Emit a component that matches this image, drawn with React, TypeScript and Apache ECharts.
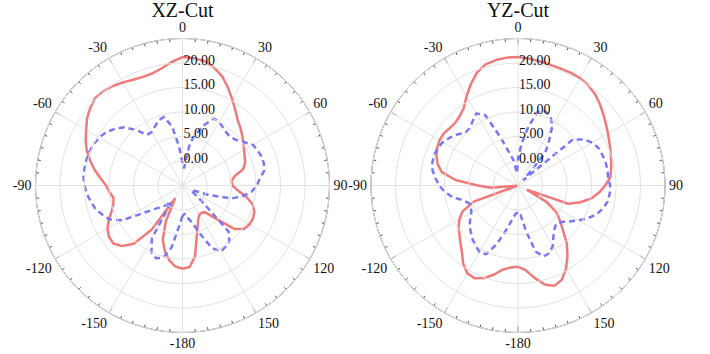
import React, { useEffect, useRef } from "react";
import * as echarts from "echarts";

const ANGLES = [
  -180, -175, -170, -165, -160, -155, -150, -145, -140, -135, -130, -125,
  -120, -115, -110, -105, -100, -95, -90, -85, -80, -75, -70, -65,
  -60, -55, -50, -45, -40, -35, -30, -25, -20, -15, -10, -5,
  0, 5, 10, 15, 20, 25, 30, 35, 40, 45, 50, 55,
  60, 65, 70, 75, 80, 85, 90, 95, 100, 105, 110, 115,
  120, 125, 130, 135, 140, 145, 150, 155, 160, 165, 170, 175,
  180,
];

const ANGLE_TICKS = [0, 30, 60, 90, 120, 150, -180, -150, -120, -90, -60, -30];
const RADIUS_TICKS = [0, 5, 10, 15, 20];
const TITLES = ["XZ-Cut", "YZ-Cut"];

// XZ cut, solid red
const XZ_RED = [
  12.0, 11.6, 10.5, 8.9, 6.8, 3.0, -2.0, 6.0, 10.5, 12.5, 13.4, 13.3,
  12.7, 11.6, 10.4, 9.6, 9.3, 10.0, 10.6, 11.8, 13.2, 14.5, 15.8, 16.8,
  17.7, 18.8, 19.6, 20.2, 20.1, 19.8, 19.3, 18.8, 18.6, 18.7, 19.3, 20.3,
  21.2, 21.1, 20.8, 19.9, 18.7, 17.0, 15.3, 13.8, 12.5, 11.7, 10.9, 10.2,
  9.5, 9.0, 8.6, 7.8, 5.8, 5.0, 5.2, 6.3, 8.2, 9.8, 10.6, 10.9,
  10.8, 10.4, 8.8, 4.5, 2.1, 1.8, 1.9, 2.6, 4.0, 6.1, 9.7, 11.7,
  12.0,
];

// XZ cut, dashed blue
const XZ_BLUE = [
  1.2, 3.5, 7.8, 10.3, 10.8, 10.0, 7.5, -1.0, 0.3, 1.2, 2.5, 4.8,
  9.2, 11.4, 12.4, 13.4, 14.0, 14.6, 15.0, 15.3, 15.3, 15.3, 15.2, 15.0,
  14.6, 14.0, 13.0, 11.8, 9.8, 7.6, 7.6, 8.3, 9.2, 9.5, 7.2, 3.0,
  -0.5, -1.5, 3.8, 6.0, 8.2, 10.1, 10.0, 9.4, 9.0, 8.9, 9.4, 10.4,
  11.6, 11.9, 12.2, 12.2, 11.9, 10.8, 10.2, 9.2, 7.5, 5.3, 0.5, -2.8,
  -3.0, -2.0, 0.5, 8.3, 9.9, 10.3, 10.6, 9.0, 5.5, 3.0, 1.8, 0.8,
  1.2,
];

// YZ cut, solid red
const YZ_RED = [
  11.6, 11.8, 12.4, 13.8, 15.1, 15.9, 15.7, 14.5, 12.8, 11.6, 10.6, 9.8,
  8.8, 7.5, 4.5, -4.8, -4.8, 0.5, 3.2, 7.8, 10.8, 12.0, 12.7, 13.2,
  13.5, 13.5, 13.2, 13.1, 13.5, 14.3, 16.0, 17.8, 19.5, 20.6, 21.0, 21.2,
  21.2, 21.0, 20.7, 20.5, 20.4, 20.4, 20.3, 20.0, 19.4, 18.6, 17.7, 16.9,
  16.2, 15.6, 15.1, 14.7, 14.3, 13.9, 12.8, 11.6, 10.2, 8.2, 5.9, -3.0,
  1.8, 4.6, 6.2, 8.0, 10.5, 12.6, 14.6, 16.2, 16.8, 15.9, 14.1, 12.3,
  11.6,
];

// YZ cut, dashed blue
const YZ_BLUE = [
  0.5, 0.8, 2.2, 4.5, 7.8, 10.5, 10.7, 10.0, 9.4, 8.6, 7.9, 6.9,
  6.0, 5.6, 5.6, 6.6, 8.6, 10.0, 11.1, 11.9, 12.7, 13.1, 13.2, 13.1,
  12.7, 12.0, 11.2, 10.2, 10.3, 11.1, 12.0, 10.8, 5.5, 2.0, 0.2, -2.5,
  0.5, 3.7, 7.2, 10.6, 11.1, 10.7, 9.0, 6.0, 3.6, -3.5, 9.6, 11.4,
  12.5, 13.1, 13.3, 13.5, 13.5, 13.5, 13.8, 13.8, 13.6, 13.0, 12.1, 10.8,
  9.2, 7.8, 6.6, 6.0, 6.6, 7.6, 9.2, 10.2, 10.4, 9.0, 4.5, 1.0,
  0.5,
];

const CENTERS = [
  [182.5, 185.5],
  [518, 185.5],
];

const FONT = "'Liberation Serif', 'Times New Roman', serif";
const RED = "#F07A7A";
const BLUE = "#7878F6";

function toData(vals: number[]) {
  return ANGLES.map((a, i) => [vals[i], a < 0 ? a + 360 : a]);
}

export default function App() {
  const ref = useRef<HTMLDivElement>(null);
  useEffect(() => {
    if (!ref.current) return;
    const chart = echarts.init(ref.current, undefined, { renderer: "svg" });
    const polar = CENTERS.map((c) => ({ center: c, radius: 147 }));
    const angleAxis = CENTERS.map((_, i) => ({
      polarIndex: i,
      type: "value",
      min: 0,
      max: 360,
      interval: 30,
      startAngle: 90,
      clockwise: true,
      axisLine: { show: true, lineStyle: { color: "#555", width: 1 } },
      axisTick: { show: true, inside: true, length: 6, lineStyle: { color: "#555" } },
      minorTick: { show: true, splitNumber: 6, length: 3, lineStyle: { color: "#555" } },
      splitLine: { show: true, lineStyle: { color: "#e2e2e2", width: 1 } },
      axisLabel: {
        margin: 4,
        fontFamily: FONT,
        fontSize: 14,
        color: "#111",
        formatter: (v: number) => {
          if (v >= 360) return "";
          const a = v >= 180 ? v - 360 : v;
          return ANGLE_TICKS.indexOf(a) >= 0 ? String(a) : "";
        },
      },
    }));
    const radiusAxis = CENTERS.map((_, i) => ({
      polarIndex: i,
      type: "value",
      min: -5,
      max: 25,
      interval: 5,
      z: 5,
      axisLine: { show: false },
      axisTick: { show: false },
      splitLine: { show: true, lineStyle: { color: "#e2e2e2", width: 1 } },
      axisLabel: {
        margin: -1,
        align: "left",
        verticalAlign: "bottom",
        lineHeight: 6,
        fontFamily: FONT,
        fontSize: 14,
        color: "#111",
        formatter: (v: number) =>
          RADIUS_TICKS.indexOf(v) >= 0 ? v.toFixed(2) : "",
      },
    }));
    const mk = (vals: number[], idx: number, color: string, dashed: boolean) => ({
      type: "line",
      coordinateSystem: "polar",
      polarIndex: idx,
      data: toData(vals),
      showSymbol: false,
      symbol: "none",
      lineStyle: { color, width: 2.5, type: dashed ? [6, 4] : "solid" },
      z: 2,
    });
    chart.setOption({
      animation: false,
      backgroundColor: "#fff",
      textStyle: { fontFamily: FONT },
      title: TITLES.map((t, i) => ({
        text: t,
        left: CENTERS[i][0],
        top: 0,
        padding: 0,
        textAlign: "center",
        textStyle: { fontFamily: FONT, fontSize: 20, fontWeight: "normal", color: "#111" },
      })),
      polar,
      angleAxis,
      radiusAxis,
      series: [
        mk(XZ_RED, 0, RED, false),
        mk(XZ_BLUE, 0, BLUE, true),
        mk(YZ_RED, 1, RED, false),
        mk(YZ_BLUE, 1, BLUE, true),
      ],
    });
    return () => chart.dispose();
  }, []);
  return (
    <div
      ref={ref}
      style={{ position: "fixed", left: 0, top: 0, width: 710, height: 354 }}
    />
  );
}
